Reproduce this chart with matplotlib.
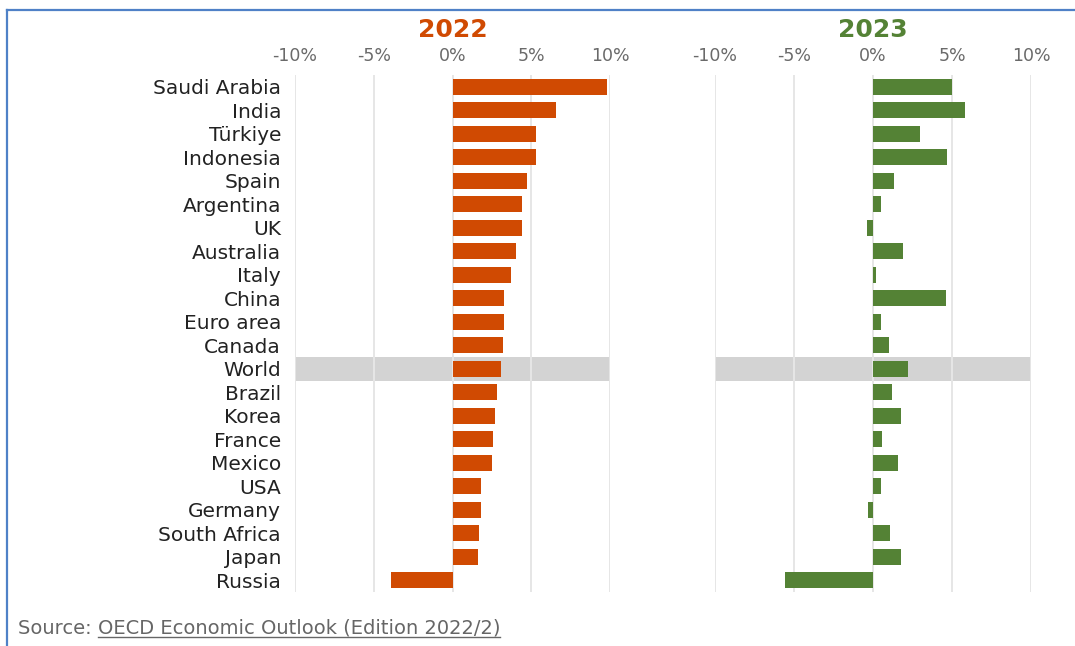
import matplotlib.pyplot as plt
from matplotlib.lines import Line2D

countries = ["Saudi Arabia", "India", "Türkiye", "Indonesia", "Spain", "Argentina",
             "UK", "Australia", "Italy", "China", "Euro area", "Canada", "World",
             "Brazil", "Korea", "France", "Mexico", "USA", "Germany",
             "South Africa", "Japan", "Russia"]
growth_2022 = [9.8, 6.6, 5.3, 5.3, 4.7, 4.4, 4.4, 4.0, 3.7, 3.3, 3.3, 3.2, 3.1,
               2.8, 2.7, 2.6, 2.5, 1.8, 1.8, 1.7, 1.6, -3.9]
growth_2023 = [5.0, 5.8, 3.0, 4.7, 1.3, 0.5, -0.4, 1.9, 0.2, 4.6, 0.5, 1.0, 2.2,
               1.2, 1.8, 0.6, 1.6, 0.5, -0.3, 1.1, 1.8, -5.6]
xticks = [-10, -5, 0, 5, 10]
xticklabels = ["-10%", "-5%", "0%", "5%", "10%"]

orange = "#D04A02"
green = "#548235"
W, H = 1075, 646

plt.rcParams['font.family'] = ['DejaVu Sans']
fig = plt.figure(figsize=(W / 100, H / 100), dpi=100)

# blue frame (only top and left visible)
fig.add_artist(Line2D([7 / W, 1.0], [1 - 10 / H, 1 - 10 / H], color="#4F81C7", lw=1.6))
fig.add_artist(Line2D([7 / W, 7 / W], [0, 1 - 10 / H], color="#4F81C7", lw=1.6))

ax_top, ax_bot = 75, 592
panels = [(295, 610, growth_2022, orange, "2022"), (715, 1031, growth_2023, green, "2023")]
ypos = list(range(len(countries)))

for i, (x0, x1, vals, col, title) in enumerate(panels):
    ax = fig.add_axes([x0 / W, 1 - ax_bot / H, (x1 - x0) / W, (ax_bot - ax_top) / H])
    ax.axhspan(countries.index("World") - 0.5, countries.index("World") + 0.5,
               color="#d3d3d3", zorder=0.2, lw=0)
    ax.barh(ypos, vals, height=0.68, color=col, zorder=2)
    ax.set_xlim(-10, 10)
    ax.set_ylim(len(countries) - 0.5, -0.5)
    ax.set_xticks(xticks)
    ax.set_xticklabels(xticklabels, fontsize=12.5, color="#6a6a6a")
    ax.xaxis.tick_top()
    ax.tick_params(axis='x', length=0, pad=7)
    ax.grid(axis='x', color="#e6e6e6", lw=1.4, zorder=0.5)
    for s in ax.spines.values():
        s.set_visible(False)
    if i == 0:
        ax.set_yticks(ypos)
        ax.set_yticklabels(countries, fontsize=14.5, color="#222222")
        ax.tick_params(axis='y', length=0, pad=10)
    else:
        ax.set_yticks([])
    fig.text(((x0 + x1) / 2) / W, 1 - 30 / H, title, color=col, fontsize=18,
             fontweight='bold', ha='center', va='center')

src = fig.text(18 / W, 1 - 628 / H, "Source: ", fontsize=14, color="#666666",
               ha='left', va='center')
fig.canvas.draw()
r = fig.canvas.get_renderer()
bb = src.get_window_extent(r)
link = fig.text(bb.x1 / W, 1 - 628 / H, "OECD Economic Outlook (Edition 2022/2)",
                fontsize=14, color="#666666", ha='left', va='center')
fig.canvas.draw()
lb = link.get_window_extent(r)
fig.add_artist(Line2D([lb.x0 / W, lb.x1 / W], [(lb.y0 + 1) / H, (lb.y0 + 1) / H],
                      color="#666666", lw=1))

fig.savefig("out.png", dpi=100)
